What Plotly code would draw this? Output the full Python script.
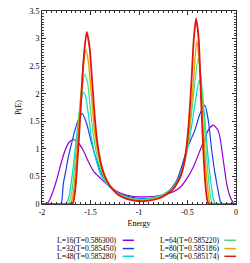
import plotly.graph_objects as go

labels = ["L=16(T=0.586300)", "L=32(T=0.585450)", "L=48(T=0.585280)",
          "L=64(T=0.585220)", "L=80(T=0.585186)", "L=96(T=0.585174)"]
colors = ["#9400d3", "#1a3fe6", "#00d8d8", "#4cdc74", "#e3a200", "#e0140c"]

E16 = [-2.0, -1.95, -1.92, -1.883, -1.85, -1.814, -1.763, -1.72, -1.677, -1.63, -1.574, -1.52, -1.471,
       -1.40, -1.333, -1.26, -1.18, -1.1, -1.0, -0.9, -0.8, -0.72, -0.65, -0.577, -0.51, -0.44,
       -0.371, -0.32, -0.286, -0.234, -0.19, -0.165, -0.131, -0.096, -0.065, -0.044, -0.02, 0.0]
P16 = [0, 0, 0.08, 0.25, 0.43, 0.67, 0.97, 1.12, 1.17, 1.12, 0.97, 0.76, 0.6,
       0.47, 0.36, 0.26, 0.19, 0.15, 0.13, 0.13, 0.15, 0.18, 0.22, 0.3, 0.45, 0.67,
       0.97, 1.2, 1.34, 1.43, 1.35, 1.21, 0.79, 0.37, 0.15, 0.07, 0.0, 0]

E32 = [-2.0, -1.82, -1.80, -1.78, -1.755, -1.729, -1.695, -1.66, -1.62, -1.585, -1.54, -1.488, -1.436,
       -1.368, -1.30, -1.22, -1.12, -1.0, -0.9, -0.8, -0.7, -0.61, -0.56, -0.51, -0.47, -0.423,
       -0.371, -0.32, -0.286, -0.25, -0.216, -0.18, -0.16, -0.14, 0.0]
P32 = [0, 0, 0.02, 0.37, 0.6, 0.85, 1.1, 1.34, 1.55, 1.64, 1.46, 1.1, 0.79,
       0.49, 0.33, 0.21, 0.14, 0.1, 0.1, 0.13, 0.22, 0.43, 0.68, 0.97, 1.15, 1.34,
       1.64, 1.79, 1.52, 0.97, 0.55, 0.2, 0.04, 0, 0]

E48 = [-2.0, -1.77, -1.75, -1.72, -1.69, -1.66, -1.63, -1.60, -1.574, -1.55, -1.52, -1.49, -1.45,
       -1.40, -1.35, -1.28, -1.2, -1.1, -1.0, -0.9, -0.8, -0.72, -0.65, -0.6, -0.55, -0.5, -0.46,
       -0.42, -0.38, -0.35, -0.32, -0.29, -0.26, -0.235, -0.215, -0.2, 0.0]
P48 = [0, 0, 0.02, 0.15, 0.5, 0.95, 1.45, 1.85, 2.03, 1.95, 1.6, 1.2, 0.85,
       0.55, 0.4, 0.27, 0.18, 0.11, 0.09, 0.1, 0.14, 0.21, 0.31, 0.43, 0.63, 0.98, 1.38,
       1.85, 2.24, 2.05, 1.5, 0.9, 0.4, 0.1, 0.01, 0, 0]

E64 = [-2.0, -1.74, -1.72, -1.69, -1.66, -1.63, -1.60, -1.557, -1.53, -1.50, -1.47, -1.43,
       -1.39, -1.34, -1.28, -1.2, -1.1, -1.0, -0.9, -0.8, -0.72, -0.65, -0.6, -0.55, -0.51, -0.47,
       -0.43, -0.392, -0.36, -0.33, -0.30, -0.275, -0.25, -0.235, 0.0]
P64 = [0, 0, 0.02, 0.25, 0.75, 1.35, 1.95, 2.35, 2.2, 1.7, 1.25, 0.85,
       0.6, 0.42, 0.28, 0.17, 0.1, 0.08, 0.09, 0.13, 0.2, 0.3, 0.42, 0.62, 0.95, 1.45,
       2.1, 2.63, 2.3, 1.55, 0.8, 0.3, 0.03, 0, 0]

E80 = [-2.0, -1.72, -1.70, -1.67, -1.64, -1.61, -1.58, -1.546, -1.52, -1.49, -1.46, -1.42,
       -1.38, -1.33, -1.27, -1.2, -1.1, -1.0, -0.9, -0.8, -0.72, -0.65, -0.6, -0.56, -0.52, -0.48,
       -0.44, -0.405, -0.375, -0.345, -0.315, -0.29, -0.27, -0.255, 0.0]
P80 = [0, 0, 0.02, 0.3, 0.95, 1.7, 2.4, 2.79, 2.55, 1.95, 1.35, 0.9,
       0.62, 0.42, 0.27, 0.16, 0.09, 0.06, 0.07, 0.11, 0.18, 0.28, 0.4, 0.56, 0.85, 1.35,
       2.2, 2.96, 2.5, 1.6, 0.75, 0.25, 0.03, 0, 0]

E96 = [-2.0, -1.70, -1.68, -1.655, -1.63, -1.60, -1.57, -1.539, -1.51, -1.48, -1.45, -1.42,
       -1.38, -1.33, -1.27, -1.2, -1.1, -1.0, -0.9, -0.8, -0.72, -0.65, -0.6, -0.56, -0.52, -0.49,
       -0.46, -0.435, -0.412, -0.385, -0.36, -0.335, -0.31, -0.29, -0.275, 0.0]
P96 = [0, 0, 0.02, 0.3, 0.9, 1.75, 2.65, 3.12, 2.85, 2.15, 1.45, 1.0,
       0.65, 0.42, 0.26, 0.15, 0.08, 0.05, 0.06, 0.1, 0.17, 0.27, 0.4, 0.56, 0.9, 1.4,
       2.2, 3.0, 3.36, 3.0, 1.9, 0.9, 0.25, 0.03, 0, 0]

series = [(E16, P16), (E32, P32), (E48, P48), (E64, P64), (E80, P80), (E96, P96)]
widths = [1.2, 1.2, 1.2, 1.2, 1.4, 1.8]

xticks = [-2, -1.5, -1, -0.5, 0]
yticks = [0, 0.5, 1, 1.5, 2, 2.5, 3, 3.5]

fig = go.Figure()
for (e, p), c, w, name in zip(series, colors, widths, labels):
    fig.add_trace(go.Scatter(x=e, y=p, mode="lines", name=name,
                             line=dict(color=c, width=w, shape="spline", smoothing=0.6),
                             showlegend=False))

font = dict(family="Liberation Serif", size=8, color="#000")
legfont = dict(family="Liberation Serif", size=7.6, color="#000")
axis_common = dict(showgrid=False, zeroline=False, showline=True, linecolor="#333",
                   linewidth=1, mirror="allticks", ticks="inside", ticklen=4,
                   tickcolor="#333", tickfont=font, automargin=False,
                   ticklabeloverflow="allow")
fig.update_xaxes(range=[-2, 0], tickvals=xticks, ticktext=["-2", "-1.5", "-1", "-0.5", "0"],
                 title=dict(text="Energy", font=font, standoff=4),
                 minor=dict(ticks="inside", ticklen=2, dtick=0.05, tickcolor="#333"),
                 **axis_common)
fig.update_yaxes(range=[0, 3.5], tickvals=yticks, ticktext=["0", "0.5", "1", "1.5", "2", "2.5", "3", "3.5"],
                 title=dict(text="P(E)", font=font, standoff=6),
                 minor=dict(ticks="inside", ticklen=2, dtick=0.05, tickcolor="#333"),
                 **axis_common)

# legend (gnuplot style: text right-aligned, sample to the right)
rows = [-0.188, -0.231, -0.271]
cols = [(0.387, 0.416, 0.474), (0.918, 0.940, 1.0)]
for i, (name, c) in enumerate(zip(labels, colors)):
    col = cols[i // 3]
    ry = rows[i % 3]
    fig.add_annotation(x=col[0], y=ry, xref="paper", yref="paper", text=name,
                       showarrow=False, xanchor="right", yanchor="middle", font=legfont,
                       borderpad=0)
    fig.add_shape(type="line", xref="paper", yref="paper", x0=col[1], x1=col[2], y0=ry, y1=ry,
                  line=dict(color=c, width=1.5))

# the page body has an 8px default margin; size the figure to fit the window
fig.update_layout(width=242, height=255, margin=dict(l=34, r=14, t=3, b=59, autoexpand=False),
                  paper_bgcolor="white", plot_bgcolor="white", font=font)
fig.write_html("out.html")
